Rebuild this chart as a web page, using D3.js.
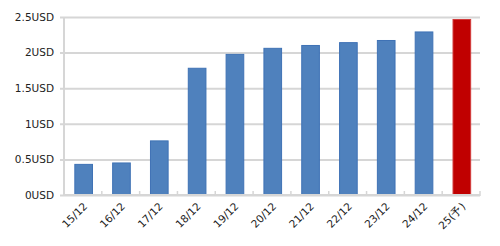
<!DOCTYPE html>
<html>
<head>
<meta charset="utf-8">
<script src="https://cdn.jsdelivr.net/npm/d3@7"></script>
<style>
  body { margin: 0; background: #fff; }
  text { font-family: "DejaVu Sans", Verdana, sans-serif; font-size: 10.5px; fill: #222; }
</style>
</head>
<body>
<div id="chart"></div>
<script>
// categories and values
var categories = ["15/12", "16/12", "17/12", "18/12", "19/12", "20/12",
                  "21/12", "22/12", "23/12", "24/12", "25(予)"];
var values = [0.43, 0.45, 0.76, 1.78, 1.975, 2.06, 2.10, 2.14, 2.17, 2.29, 2.465];
var yTicks = [0, 0.5, 1, 1.5, 2, 2.5];
var forecastIndex = 10;

var width = 500, height = 246;
var margin = {left: 64, right: 20, top: 17, bottom: 51};

var svg = d3.select("#chart").append("svg")
  .attr("width", width)
  .attr("height", height);

var x = d3.scaleBand()
  .domain(categories)
  .range([margin.left, width - margin.right])
  .paddingInner(0.52)
  .paddingOuter(0.26);

var y = d3.scaleLinear()
  .domain([0, 2.5])
  .range([height - margin.bottom, margin.top]);

// horizontal gridlines plus y labels
var yAxis = d3.axisLeft(y)
  .tickValues(yTicks)
  .tickSize(-(width - margin.right - margin.left) - 4)
  .tickPadding(6)
  .tickFormat(function(d) { return d + "USD"; });

var gy = svg.append("g")
  .attr("transform", "translate(" + (margin.left - 4) + ",0)")
  .call(yAxis);
gy.select(".domain").remove();
gy.selectAll(".tick line")
  .attr("stroke", "#d6d6d6")
  .attr("stroke-width", 2);

// left axis line
svg.append("line")
  .attr("x1", margin.left).attr("x2", margin.left)
  .attr("y1", y(2.5)).attr("y2", y(0))
  .attr("stroke", "#d6d6d6").attr("stroke-width", 2);

// bars
svg.selectAll(".bar")
  .data(values)
  .enter()
  .append("rect")
  .attr("class", "bar")
  .attr("x", function(d, i) { return x(categories[i]) + 1; })
  .attr("width", x.bandwidth() - 0.5)
  .attr("y", function(d) { return y(d); })
  .attr("height", function(d) { return y(0) - y(d); })
  .attr("fill", function(d, i) { return i === forecastIndex ? "#c00000" : "#4f81bd"; })
  .attr("stroke", function(d, i) { return i === forecastIndex ? "#d23a3a" : "#3f72b5"; })
  .attr("stroke-width", 1);

// x axis line with ticks between categories
var boundaries = d3.range(categories.length + 1).map(function(i) {
  return margin.left + i * (width - margin.right - margin.left) / categories.length;
});
svg.append("line")
  .attr("x1", margin.left).attr("x2", width - margin.right)
  .attr("y1", y(0)).attr("y2", y(0))
  .attr("stroke", "#d6d6d6").attr("stroke-width", 2);
svg.selectAll(".xtick")
  .data(boundaries)
  .enter()
  .append("line")
  .attr("x1", function(d) { return d; })
  .attr("x2", function(d) { return d; })
  .attr("y1", y(0) - 4)
  .attr("y2", y(0) + 1)
  .attr("stroke", "#d6d6d6").attr("stroke-width", 1.5);

// rotated category labels
svg.selectAll(".xlabel")
  .data(categories)
  .enter()
  .append("text")
  .attr("class", "xlabel")
  .attr("text-anchor", "end")
  .attr("transform", function(d) {
    var cx = x(d) + x.bandwidth() / 2 + 5;
    return "translate(" + cx + "," + (y(0) + 12) + ") rotate(-45)";
  })
  .text(function(d) { return d; });
</script>
</body>
</html>
